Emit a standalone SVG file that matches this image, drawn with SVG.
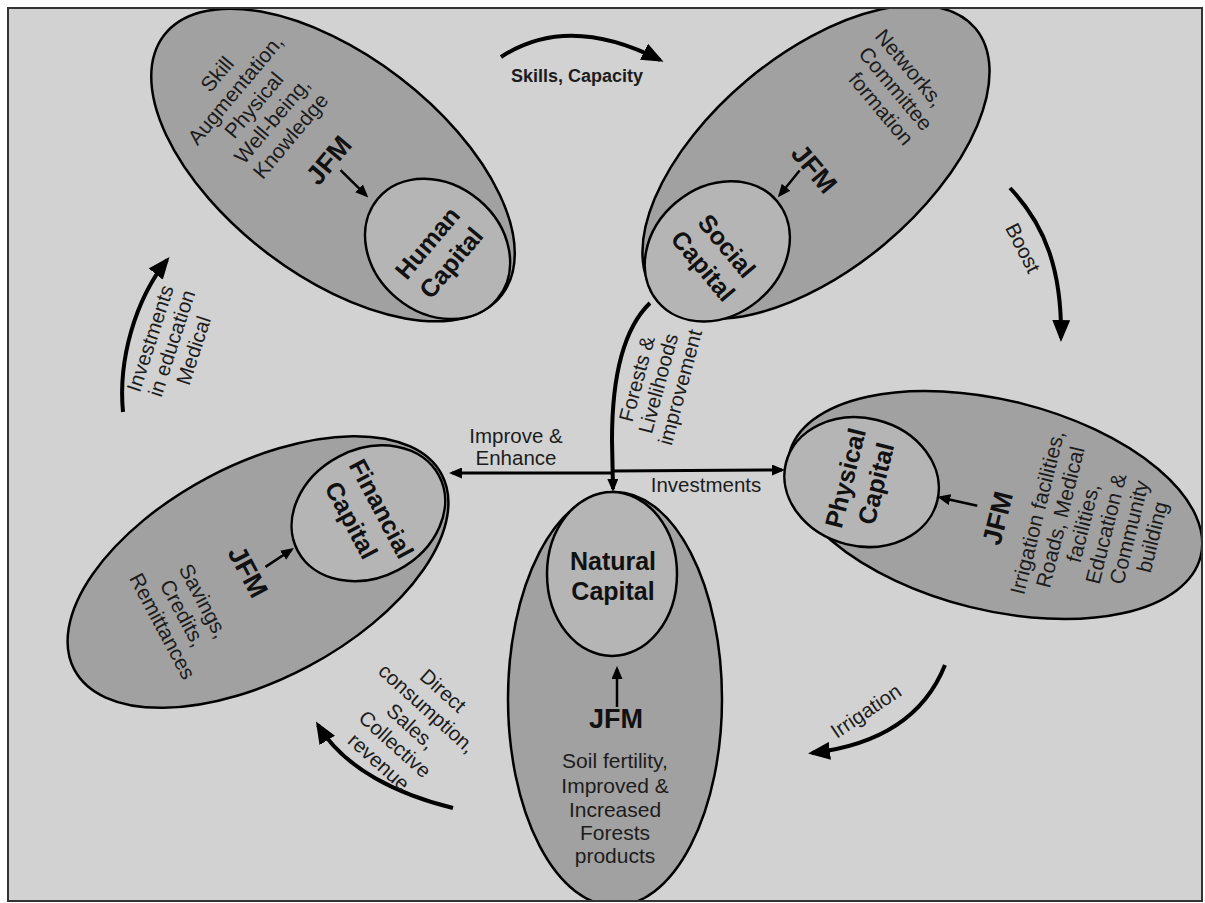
<svg xmlns="http://www.w3.org/2000/svg" width="1205" height="903" viewBox="0 0 1205 903">
<defs>
<style>
text{font-family:"Liberation Sans",Arial,Helvetica,sans-serif;text-anchor:middle;fill:#1c1c1c}
.t{font-size:21px}
.cap{font-size:25px;font-weight:bold;fill:#111}
.jfm{font-size:27px;font-weight:bold;fill:#111}
.lbl{font-size:20.5px}
.outer{fill:#a1a1a1;stroke:#000;stroke-width:2.5}
.inner{fill:#b5b5b5;stroke:#000;stroke-width:2.5}
.arc{fill:none;stroke:#000;stroke-width:4}
.ln{fill:none;stroke:#000;stroke-width:3}
.ja{fill:none;stroke:#000;stroke-width:2.5}
</style>
<marker id="big" markerUnits="userSpaceOnUse" viewBox="0 0 22 18" markerWidth="22" markerHeight="18" refX="18" refY="9" orient="auto"><path d="M0,0L22,9L0,18z"/></marker>
<marker id="sm" markerUnits="userSpaceOnUse" viewBox="0 0 13 11" markerWidth="13" markerHeight="11" refX="10" refY="5.5" orient="auto"><path d="M0,0L13,5.5L0,11z"/></marker>
<clipPath id="frame"><rect x="8" y="8" width="1194" height="893"/></clipPath>
</defs>
<rect width="1205" height="903" fill="#fff"/>
<rect x="8" y="8" width="1194" height="893" fill="#d2d2d2"/>
<g clip-path="url(#frame)">
<g id="human-capital" transform="translate(333,165) rotate(-50)">
<ellipse class="outer" cx="0" cy="0" rx="110" ry="213" transform="rotate(-2.5)"/>
<ellipse class="inner" cx="3" cy="134" rx="64" ry="78"/>
<text class="t" x="-5" y="-140">Skill</text>
<text class="t" x="-5" y="-116">Augmentation,</text>
<text class="t" x="-5" y="-92">Physical</text>
<text class="t" x="-5" y="-68">Well-being,</text>
<text class="t" x="-5" y="-44">Knowledge</text>
<text class="jfm" x="1" y="3">JFM</text>
<path class="ja" d="M1,9L-2,45" marker-end="url(#sm)"/>
<text class="cap" x="1" y="131">Human</text>
<text class="cap" x="1" y="162">Capital</text>
</g>
<g id="social-capital" transform="translate(816,162) rotate(50)">
<ellipse class="outer" cx="0" cy="0" rx="107" ry="208"/>
<ellipse class="inner" cx="5" cy="133" rx="64" ry="78"/>
<text class="t" x="-12" y="-125">Networks,</text>
<text class="t" x="-5" y="-101">Committee</text>
<text class="t" x="1" y="-77">formation</text>
<text class="jfm" x="4" y="15">JFM</text>
<path class="ja" d="M-4,18L2,49" marker-end="url(#sm)"/>
<text class="cap" x="7" y="131">Social</text>
<text class="cap" x="7" y="162">Capital</text>
</g>
<g id="physical-capital" transform="translate(995,505) rotate(-76)">
<ellipse class="outer" cx="0" cy="0" rx="105" ry="212"/>
<ellipse class="inner" cx="-10" cy="-135" rx="64" ry="78"/>
<text class="cap" x="-10" y="-143">Physical</text>
<text class="cap" x="-8" y="-112">Capital</text>
<text class="jfm" x="-12" y="15">JFM</text>
<path class="ja" d="M-5,-17L-6,-55" marker-end="url(#sm)"/>
<text class="t" x="3" y="50">Irrigation facilities,</text>
<text class="t" x="4" y="73.5">Roads, Medical</text>
<text class="t" x="4" y="97">facilities,</text>
<text class="t" x="4" y="120.5">Education &amp;</text>
<text class="t" x="6" y="144">Community</text>
<text class="t" x="7" y="167.5">building</text>
</g>
<g id="financial-capital" transform="translate(258,572) rotate(62)">
<ellipse class="outer" cx="0" cy="0" rx="107" ry="208"/>
<ellipse class="inner" cx="0" cy="-125" rx="64" ry="80"/>
<text class="cap" x="2" y="-130">Financial</text>
<text class="cap" x="-2" y="-98">Capital</text>
<text class="jfm" x="-5" y="18">JFM</text>
<path class="ja" d="M-1,-9L-4,-40" marker-end="url(#sm)"/>
<text class="t" x="0" y="69">Savings,</text>
<text class="t" x="1" y="93">Credits,</text>
<text class="t" x="3" y="117">Remittances</text>
</g>
<g id="natural-capital" transform="translate(615,699)">
<ellipse class="outer" cx="0" cy="0" rx="107" ry="207"/>
<ellipse class="inner" cx="-3" cy="-125" rx="65" ry="82"/>
<text class="cap" x="-2" y="-129">Natural</text>
<text class="cap" x="-2" y="-99">Capital</text>
<text class="jfm" x="1" y="29">JFM</text>
<path class="ja" d="M2,8L2,-30" marker-end="url(#sm)"/>
<text class="t" x="0" y="69">Soil fertility,</text>
<text class="t" x="0" y="94">Improved &amp;</text>
<text class="t" x="0" y="118">Increased</text>
<text class="t" x="0" y="141">Forests</text>
<text class="t" x="0" y="164">products</text>
</g>
<g id="connectors">
<g id="skills-capacity">
<path class="arc" d="M501,57Q568,13 660,60" marker-end="url(#big)"/>
<text style="font-size:18px;font-weight:bold" x="577" y="82">Skills, Capacity</text>
</g>
<g id="boost">
<path class="arc" d="M1010,188C1045,225 1062,270 1061,338" marker-end="url(#big)"/>
<text class="lbl" transform="translate(1023,248) rotate(63)" x="0" y="7">Boost</text>
</g>
<g id="irrigation">
<path class="arc" d="M945,665C925,715 880,745 812,753" marker-end="url(#big)"/>
<text class="lbl" transform="translate(866,711) rotate(-34)" x="0" y="7">Irrigation</text>
</g>
<g id="direct-consumption">
<path class="arc" d="M453,808C400,795 345,770 318,725" marker-end="url(#big)"/>
<g transform="translate(408,725) rotate(42)">
<text class="lbl" x="3" y="-42">Direct</text>
<text class="lbl" x="3" y="-18">consumption,</text>
<text class="lbl" x="3" y="6">Sales,</text>
<text class="lbl" x="3" y="30">Collective</text>
<text class="lbl" x="3" y="54">revenue</text>
</g>
</g>
<g id="investments-education">
<path class="arc" d="M123,412C118,360 135,300 167,260" marker-end="url(#big)"/>
<g transform="translate(171.7,343.3) rotate(-72)">
<text class="lbl" x="-2" y="-15">Investments</text>
<text class="lbl" x="0" y="7">in education</text>
<text class="lbl" x="0" y="30">Medical</text>
</g>
</g>
<g id="forests-livelihoods">
<path class="arc" d="M650,303C622,330 612,380 612,440L613,489" marker-end="url(#sm)"/>
<g transform="translate(660,385) rotate(-75)">
<text class="lbl" x="0" y="-17">Forests &amp;</text>
<text class="lbl" x="1" y="5">Livelihoods</text>
<text class="lbl" x="3" y="27">improvement</text>
</g>
</g>
<g id="improve-enhance">
<path class="ln" d="M612,473L452,473" marker-end="url(#sm)"/>
<text class="lbl" x="516" y="443">Improve &amp;</text>
<text class="lbl" x="516" y="465">Enhance</text>
</g>
<g id="investments">
<path class="ln" d="M612,471L782,470" marker-end="url(#sm)"/>
<text class="lbl" x="706" y="492">Investments</text>
</g>
</g>
</g>
<rect x="8" y="8" width="1194" height="893" fill="none" stroke="#333" stroke-width="2"/>
</svg>
